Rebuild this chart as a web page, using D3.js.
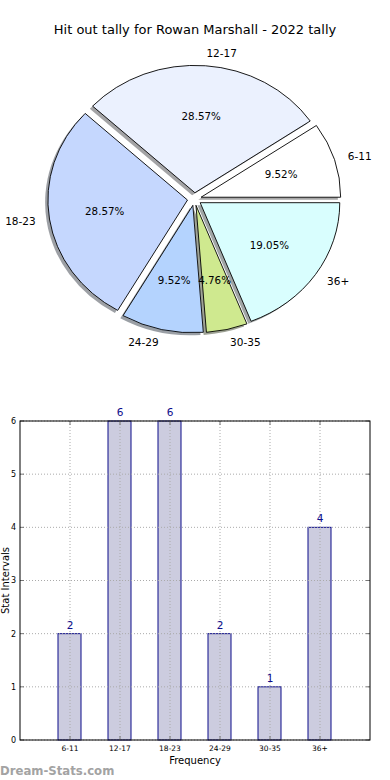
<!DOCTYPE html>
<html><head><meta charset="utf-8">
<script src="https://cdn.jsdelivr.net/npm/d3@7"></script>
<style>body{margin:0;background:#fff}svg{display:block;font-family:"DejaVu Sans",sans-serif}</style>
</head><body>
<script>
const categories = ["6-11","12-17","18-23","24-29","30-35","36+"];
const counts = [2,6,6,2,1,4];
const pieColors = ["#ffffff","#ebf1fe","#c5d7fe","#b4d3fe","#cfe98f","#d9fefe"];
const yTicks = [0,1,2,3,4,5,6];
const title = "Hit out tally for Rowan Marshall - 2022 tally";

const W=390,H=780;
const svg=d3.select("body").append("svg").attr("width",W).attr("height",H);

// ---- Title
svg.append("text").attr("x",195).attr("y",34).attr("text-anchor","middle")
  .attr("font-size",13).attr("fill","#000").text(title);

// ---- Pie (elliptical, matplotlib-like: start at 3 o'clock, counter-clockwise)
const cx=194.4, cy=199.1, rx=139.6, ry=127.4, explode=0.05;
const total=d3.sum(counts);
const pie=d3.pie().sort(null).startAngle(Math.PI/2).endAngle(Math.PI/2-2*Math.PI);
const arcs=pie(counts);
const arc=d3.arc().innerRadius(0).outerRadius(1);
const gp=svg.append("g").attr("transform",`translate(${cx},${cy})`);
function off(d,k){const a=(d.startAngle+d.endAngle)/2;return [k*Math.sin(a)*rx,-k*Math.cos(a)*ry];}
// shadows
arcs.forEach((d,i)=>{
  const [ox,oy]=off(d,explode);
  const c=d3.rgb(pieColors[i]);
  const sc=d3.rgb(c.r*0.3,c.g*0.3,c.b*0.3);
  gp.append("path").attr("d",arc(d))
    .attr("transform",`translate(${ox-0.02*rx},${oy+0.02*ry}) scale(${rx},${ry})`)
    .attr("fill",sc).attr("fill-opacity",0.5).attr("stroke","none");
});
arcs.forEach((d,i)=>{
  const [ox,oy]=off(d,explode);
  gp.append("path").attr("d",arc(d))
    .attr("transform",`translate(${ox},${oy}) scale(${rx},${ry})`)
    .attr("fill",pieColors[i]).attr("stroke","#000").attr("stroke-width",0.9)
    .attr("vector-effect","non-scaling-stroke").attr("stroke-linejoin","round");
});
arcs.forEach((d,i)=>{
  const [lx,ly]=off(d,explode+1.1);
  gp.append("text").attr("x",lx).attr("y",ly).attr("dy","0.36em")
    .attr("text-anchor",lx>0?"start":"end").attr("font-size",10.5).text(categories[i]);
  const [px,py]=off(d,explode+0.6);
  gp.append("text").attr("x",px).attr("y",py).attr("dy","0.36em")
    .attr("text-anchor","middle").attr("font-size",10.3)
    .text((counts[i]/total*100).toFixed(2)+"%");
});

// ---- Bar chart
const L=20,R=370,T=421,B=740;
const x=d3.scalePoint().domain(categories).range([L,R]).padding(1);
const y=d3.scaleLinear().domain([0,6]).range([B,T]);
const gb=svg.append("g");
const bw=23;
gb.selectAll("rect.bar").data(categories).join("rect").attr("class","bar")
  .attr("x",d=>x(d)-bw/2-0.5).attr("width",bw)
  .attr("y",(d,i)=>y(counts[i])).attr("height",(d,i)=>B-y(counts[i]))
  .attr("fill","#ccccdf").attr("stroke","#0c0c8a").attr("stroke-width",1);
// grid
gb.selectAll("line.gy").data(yTicks).join("line").attr("x1",L).attr("x2",R)
  .attr("y1",d=>y(d)).attr("y2",d=>y(d)).attr("stroke","#aaa").attr("stroke-dasharray","1,2");
gb.selectAll("line.gx").data(categories).join("line").attr("x1",d=>x(d)).attr("x2",d=>x(d))
  .attr("y1",T).attr("y2",B).attr("stroke","#aaa").attr("stroke-dasharray","1,2");
// ticks inward
yTicks.forEach(t=>{
  gb.append("line").attr("x1",L).attr("x2",L+4).attr("y1",y(t)).attr("y2",y(t)).attr("stroke","#777");
  gb.append("line").attr("x1",R-4).attr("x2",R).attr("y1",y(t)).attr("y2",y(t)).attr("stroke","#777");
});
categories.forEach(c=>{
  gb.append("line").attr("x1",x(c)).attr("x2",x(c)).attr("y1",B).attr("y2",B-4).attr("stroke","#777");
  gb.append("line").attr("x1",x(c)).attr("x2",x(c)).attr("y1",T).attr("y2",T+4).attr("stroke","#777");
});
// frame
gb.append("rect").attr("x",L).attr("y",T).attr("width",R-L).attr("height",B-T)
  .attr("fill","none").attr("stroke","#000").attr("stroke-width",1);
// value labels
gb.selectAll("text.v").data(categories).join("text").attr("class","v")
  .attr("x",d=>x(d)).attr("y",(d,i)=>y(counts[i])-5).attr("text-anchor","middle")
  .attr("font-size",10.5).attr("fill","#0c0c8a").text((d,i)=>counts[i]);
// tick labels
gb.selectAll("text.yt").data(yTicks).join("text").attr("class","yt")
  .attr("x",16).attr("y",d=>y(d)).attr("dy","0.36em").attr("text-anchor","end")
  .attr("font-size",8).text(d=>d);
gb.selectAll("text.xt").data(categories).join("text").attr("class","xt")
  .attr("x",d=>x(d)).attr("y",751).attr("text-anchor","middle")
  .attr("font-size",7.5).text(d=>d);
// axis labels
gb.append("text").attr("x",(L+R)/2).attr("y",764).attr("text-anchor","middle")
  .attr("font-size",10).text("Frequency");
gb.append("text").attr("transform",`translate(8.5,${(T+B)/2}) rotate(-90)`)
  .attr("text-anchor","middle").attr("font-size",10).text("Stat Intervals");
// watermark
svg.append("text").attr("x",0).attr("y",775).attr("font-size",11.7).attr("font-weight","600")
  .attr("fill","#a3a3a3").text("Dream-Stats.com");
</script>
</body></html>
